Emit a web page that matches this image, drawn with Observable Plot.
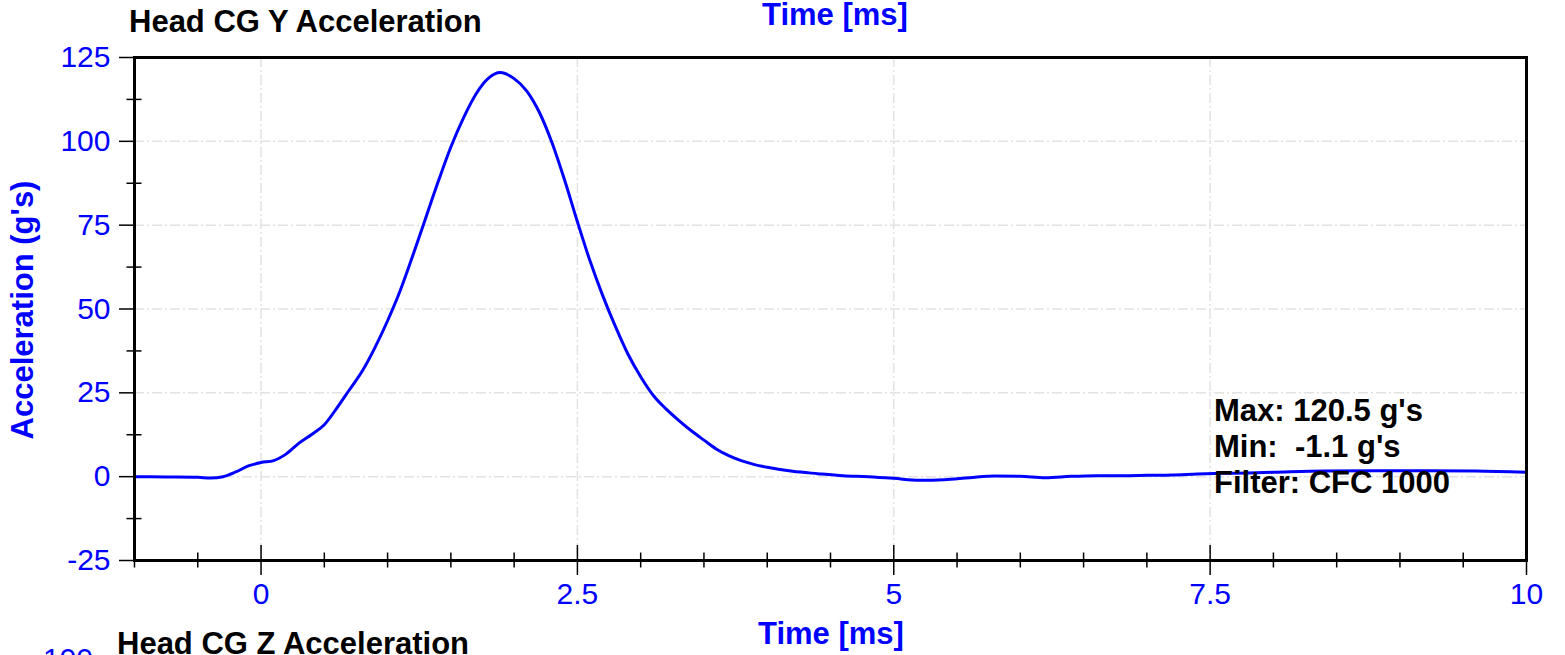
<!DOCTYPE html>
<html><head><meta charset="utf-8">
<script src="https://cdn.jsdelivr.net/npm/d3@7"></script>
<script src="https://cdn.jsdelivr.net/npm/@observablehq/plot@0.6"></script>
<style>
body{margin:0;background:#fff;}
#chart{width:1565px;height:655px;overflow:hidden;}
</style>
</head><body><div id="chart"></div>
<script>
// Time [ms]
const time = [-1, -0.75, -0.5, -0.4, -0.3, -0.2, -0.1, 0, 0.1, 0.2, 0.3, 0.4, 0.5, 0.6, 0.7, 0.8, 0.9,
  1.0, 1.1, 1.2, 1.3, 1.4, 1.5, 1.6, 1.7, 1.8, 1.89, 2.0, 2.1, 2.2, 2.3, 2.4, 2.5, 2.6, 2.7, 2.8, 2.9,
  3.0, 3.1, 3.2, 3.3, 3.4, 3.5, 3.6, 3.7, 3.8, 3.9, 4.0, 4.2, 4.4, 4.6, 4.8, 5.0, 5.2, 5.4, 5.6, 5.8,
  6.0, 6.2, 6.4, 6.6, 6.8, 7.0, 7.2, 7.4, 7.6, 7.8, 8.0, 8.4, 8.8, 9.2, 9.6, 10];
// Head CG Y acceleration [g's]
const accel = [0, -0.1, -0.2, -0.4, 0, 1.4, 3.2, 4.2, 4.8, 6.8, 10, 12.6, 15.5, 20.5, 26, 31.5, 38.5,
  46.5, 55.5, 66, 77, 88, 98.3, 107, 114.2, 118.9, 120.5, 118.7, 115, 108.6, 99.5, 88.3, 76, 64.3, 54, 44.8, 36.5,
  29.8, 24.2, 20.2, 16.8, 13.7, 10.9, 8.2, 6.2, 4.7, 3.6, 2.8, 1.6, 0.9, 0.3, 0, -0.5, -1.1, -0.9, -0.3, 0.2,
  0.1, -0.3, 0.1, 0.3, 0.3, 0.4, 0.5, 0.8, 1.0, 1.1, 1.3, 1.7, 1.8, 1.8, 1.7, 1.3];

const xMajorTicks = [0, 2.5, 5, 7.5, 10];
const xMinorTicks = [-1, -0.5, 0.5, 1, 1.5, 2, 3, 3.5, 4, 4.5, 5.5, 6, 6.5, 7, 8, 8.5, 9, 9.5];
const xGridTicks = [0, 2.5, 5, 7.5];
const yMajorTicks = [-25, 0, 25, 50, 75, 100, 125];
const yMinorTicks = [-12.5, 12.5, 37.5, 62.5, 87.5, 112.5];
const yGridTicks = [0, 25, 50, 75, 100];

const chartTitle = "Head CG Y Acceleration";
const nextChartTitle = "Head CG Z Acceleration";
const xLabel = "Time [ms]";
const yLabel = "Acceleration (g's)";
const statsLines = ["Max: 120.5 g's", "Min:  -1.1 g's", "Filter: CFC 1000"];
const nextChartFirstTick = "100";

const data = time.map((t, i) => ({t, a: accel[i]}));

const blue = "#0000ff";
const grid = {stroke: "#e2e2e2", strokeOpacity: 1, strokeDasharray: "10,3,2,3", strokeWidth: 1.5};

const plot = Plot.plot({
  width: 1565, height: 655,
  marginLeft: 134, marginRight: 39, marginTop: 57, marginBottom: 95,
  x: {domain: [-1, 10]},
  y: {domain: [-25, 125]},
  style: {fontFamily: "'Liberation Sans', Arial, sans-serif", background: "white"},
  marks: [
    Plot.gridX(xGridTicks, grid),
    Plot.gridY(yGridTicks, grid),
    Plot.line(data, {x: "t", y: "a", stroke: blue, strokeWidth: 3, curve: "monotone-x"}),
    Plot.frame({stroke: "black", strokeWidth: 3}),
    Plot.axisX(xMinorTicks, {anchor: "bottom", tickSize: 15, dy: -7.5, fill: "none", label: null, stroke: "black", strokeWidth: 1.5}),
    Plot.axisX(xMajorTicks, {anchor: "bottom", tickSize: 30, dy: -15, fill: "none", label: null, stroke: "black", strokeWidth: 1.5}),
    Plot.axisX(xMajorTicks, {anchor: "bottom", tickSize: 0, tickPadding: 22, fontSize: 30, fill: blue, label: null, tickFormat: d => String(d)}),
    Plot.axisY(yMinorTicks, {anchor: "left", tickSize: 15, dx: 7.5, fill: "none", label: null, stroke: "black", strokeWidth: 1.5}),
    Plot.axisY(yMajorTicks, {anchor: "left", tickSize: 15, fill: "none", label: null, stroke: "black", strokeWidth: 1.5}),
    Plot.axisY(yMajorTicks, {anchor: "left", tickSize: 0, tickPadding: 24, fontSize: 30, fill: blue, label: null, tickFormat: d => String(d)})
  ]
});

const svg = d3.select(plot);
function addText(txt, x, y, opts = {}) {
  const t = svg.append("text")
    .attr("x", x).attr("y", y)
    .attr("fill", opts.fill || "black")
    .attr("font-size", opts.size || 31)
    .attr("font-weight", opts.weight || "bold")
    .attr("font-family", "'Liberation Sans', Arial, sans-serif")
    .attr("text-anchor", opts.anchor || "start")
    .style("white-space", "pre")
    .attr("xml:space", "preserve")
    .text(txt);
  if (opts.transform) t.attr("transform", opts.transform);
  return t;
}
addText(chartTitle, 129, 32);
addText(xLabel, 835, 25, {fill: blue, anchor: "middle"});
addText(yLabel, 0, 0, {fill: blue, anchor: "middle", transform: "translate(33,310) rotate(-90)"});
statsLines.forEach((s, i) => addText(s, 1214, 421 + i * 36));
addText(xLabel, 831, 644, {fill: blue, anchor: "middle"});
addText(nextChartTitle, 117, 654);
addText(nextChartFirstTick, 93, 669, {fill: blue, weight: "normal", size: 30, anchor: "end"});

document.getElementById("chart").appendChild(plot);
</script>
</body></html>
